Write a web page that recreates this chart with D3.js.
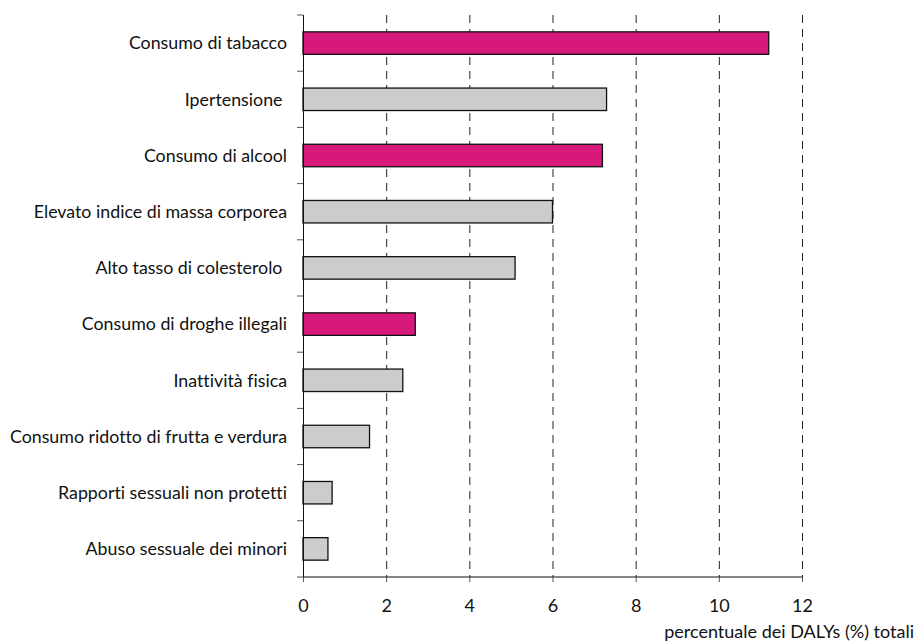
<!DOCTYPE html>
<html>
<head>
<meta charset="utf-8">
<script src="https://cdn.jsdelivr.net/npm/d3@7"></script>
<style>
  body { margin: 0; background: #fff; }
  svg text { font-family: Lato, "Open Sans", sans-serif; fill: #111; font-variant-ligatures: none; white-space: pre; }
</style>
</head>
<body>
<div id="chart"></div>
<script>
// Risk factors, top to bottom, with % of total DALYs
const categories = [
    "Consumo di tabacco",
    "Ipertensione ",
    "Consumo di alcool",
    "Elevato indice di massa corporea",
    "Alto tasso di colesterolo ",
    "Consumo di droghe illegali",
    "Inattività fisica",
    "Consumo ridotto di frutta e verdura",
    "Rapporti sessuali non protetti",
    "Abuso sessuale dei minori"
];
const values = [11.2, 7.3, 7.2, 6.0, 5.1, 2.7, 2.4, 1.6, 0.7, 0.6];
// highlighted bars (substance use)
const highlighted = ["Consumo di tabacco", "Consumo di alcool", "Consumo di droghe illegali"];
const xTicks = [0, 2, 4, 6, 8, 10, 12];
const xLabel = "percentuale dei DALYs (%) totali";

const data = categories.map((c, i) => ({ name: c, value: values[i] }));

const W = 916, H = 642;
const margin = { top: 15, right: 114, bottom: 65, left: 303 },
    width = W - margin.left - margin.right,
    height = H - margin.top - margin.bottom;

const svg = d3.select("#chart")
    .append("svg")
    .attr("width", W)
    .attr("height", H);

const g = svg.append("g")
    .attr("transform", `translate(${margin.left},${margin.top})`);

const x = d3.scaleLinear().domain([0, 12]).range([0, width]);
const y = d3.scaleBand().domain(categories).range([0, height]).paddingInner(0.6).paddingOuter(0.3);

// dashed gridlines
g.selectAll(".grid")
    .data(xTicks.filter(d => d > 0))
    .enter()
    .append("line")
    .attr("x1", d => x(d) + 0.5)
    .attr("x2", d => x(d) + 0.5)
    .attr("y1", 0)
    .attr("y2", height)
    .attr("stroke", "#222")
    .attr("stroke-width", 1)
    .attr("stroke-dasharray", "8,6");

// bars
g.selectAll(".bar")
    .data(data)
    .enter()
    .append("rect")
    .attr("x", x(0))
    .attr("y", d => y(d.name))
    .attr("width", d => x(d.value))
    .attr("height", y.bandwidth())
    .attr("fill", d => highlighted.includes(d.name) ? "#D6197A" : "#CCCCCC")
    .attr("stroke", "#111")
    .attr("stroke-width", 1.3);

// y axis: ticks on band boundaries
const step = height / categories.length;
const bounds = d3.range(categories.length + 1).map(i => i * step);
g.append("line")
    .attr("x1", 0.5).attr("x2", 0.5)
    .attr("y1", 0).attr("y2", height)
    .attr("stroke", "#111");
g.selectAll(".ytick")
    .data(bounds)
    .enter()
    .append("line")
    .attr("x1", -6).attr("x2", 0)
    .attr("y1", d => d).attr("y2", d => d)
    .attr("stroke", "#555");

g.selectAll(".ylabel")
    .data(categories)
    .enter()
    .append("text")
    .attr("x", -16)
    .attr("y", d => y(d) + y.bandwidth() / 2)
    .attr("dy", "0.35em")
    .attr("text-anchor", "end")
    .style("font-size", "17.8px")
    .text(d => d);

// x axis
const xAxis = g.append("g")
    .attr("transform", `translate(0,${height})`)
    .call(d3.axisBottom(x).tickValues(xTicks).tickSize(5).tickPadding(17).tickFormat(d3.format("d")));
xAxis.select(".domain").attr("stroke", "#111").attr("d", `M0.5,0H${width + 0.5}`);
xAxis.selectAll(".tick line").attr("stroke", "#555");
xAxis.selectAll("text").style("font-size", "18px").style("font-family", "Lato, sans-serif").attr("fill", "#111");

svg.append("text")
    .attr("x", 914)
    .attr("y", 638)
    .attr("text-anchor", "end")
    .style("font-size", "18px")
    .text(xLabel);
</script>
</body>
</html>
